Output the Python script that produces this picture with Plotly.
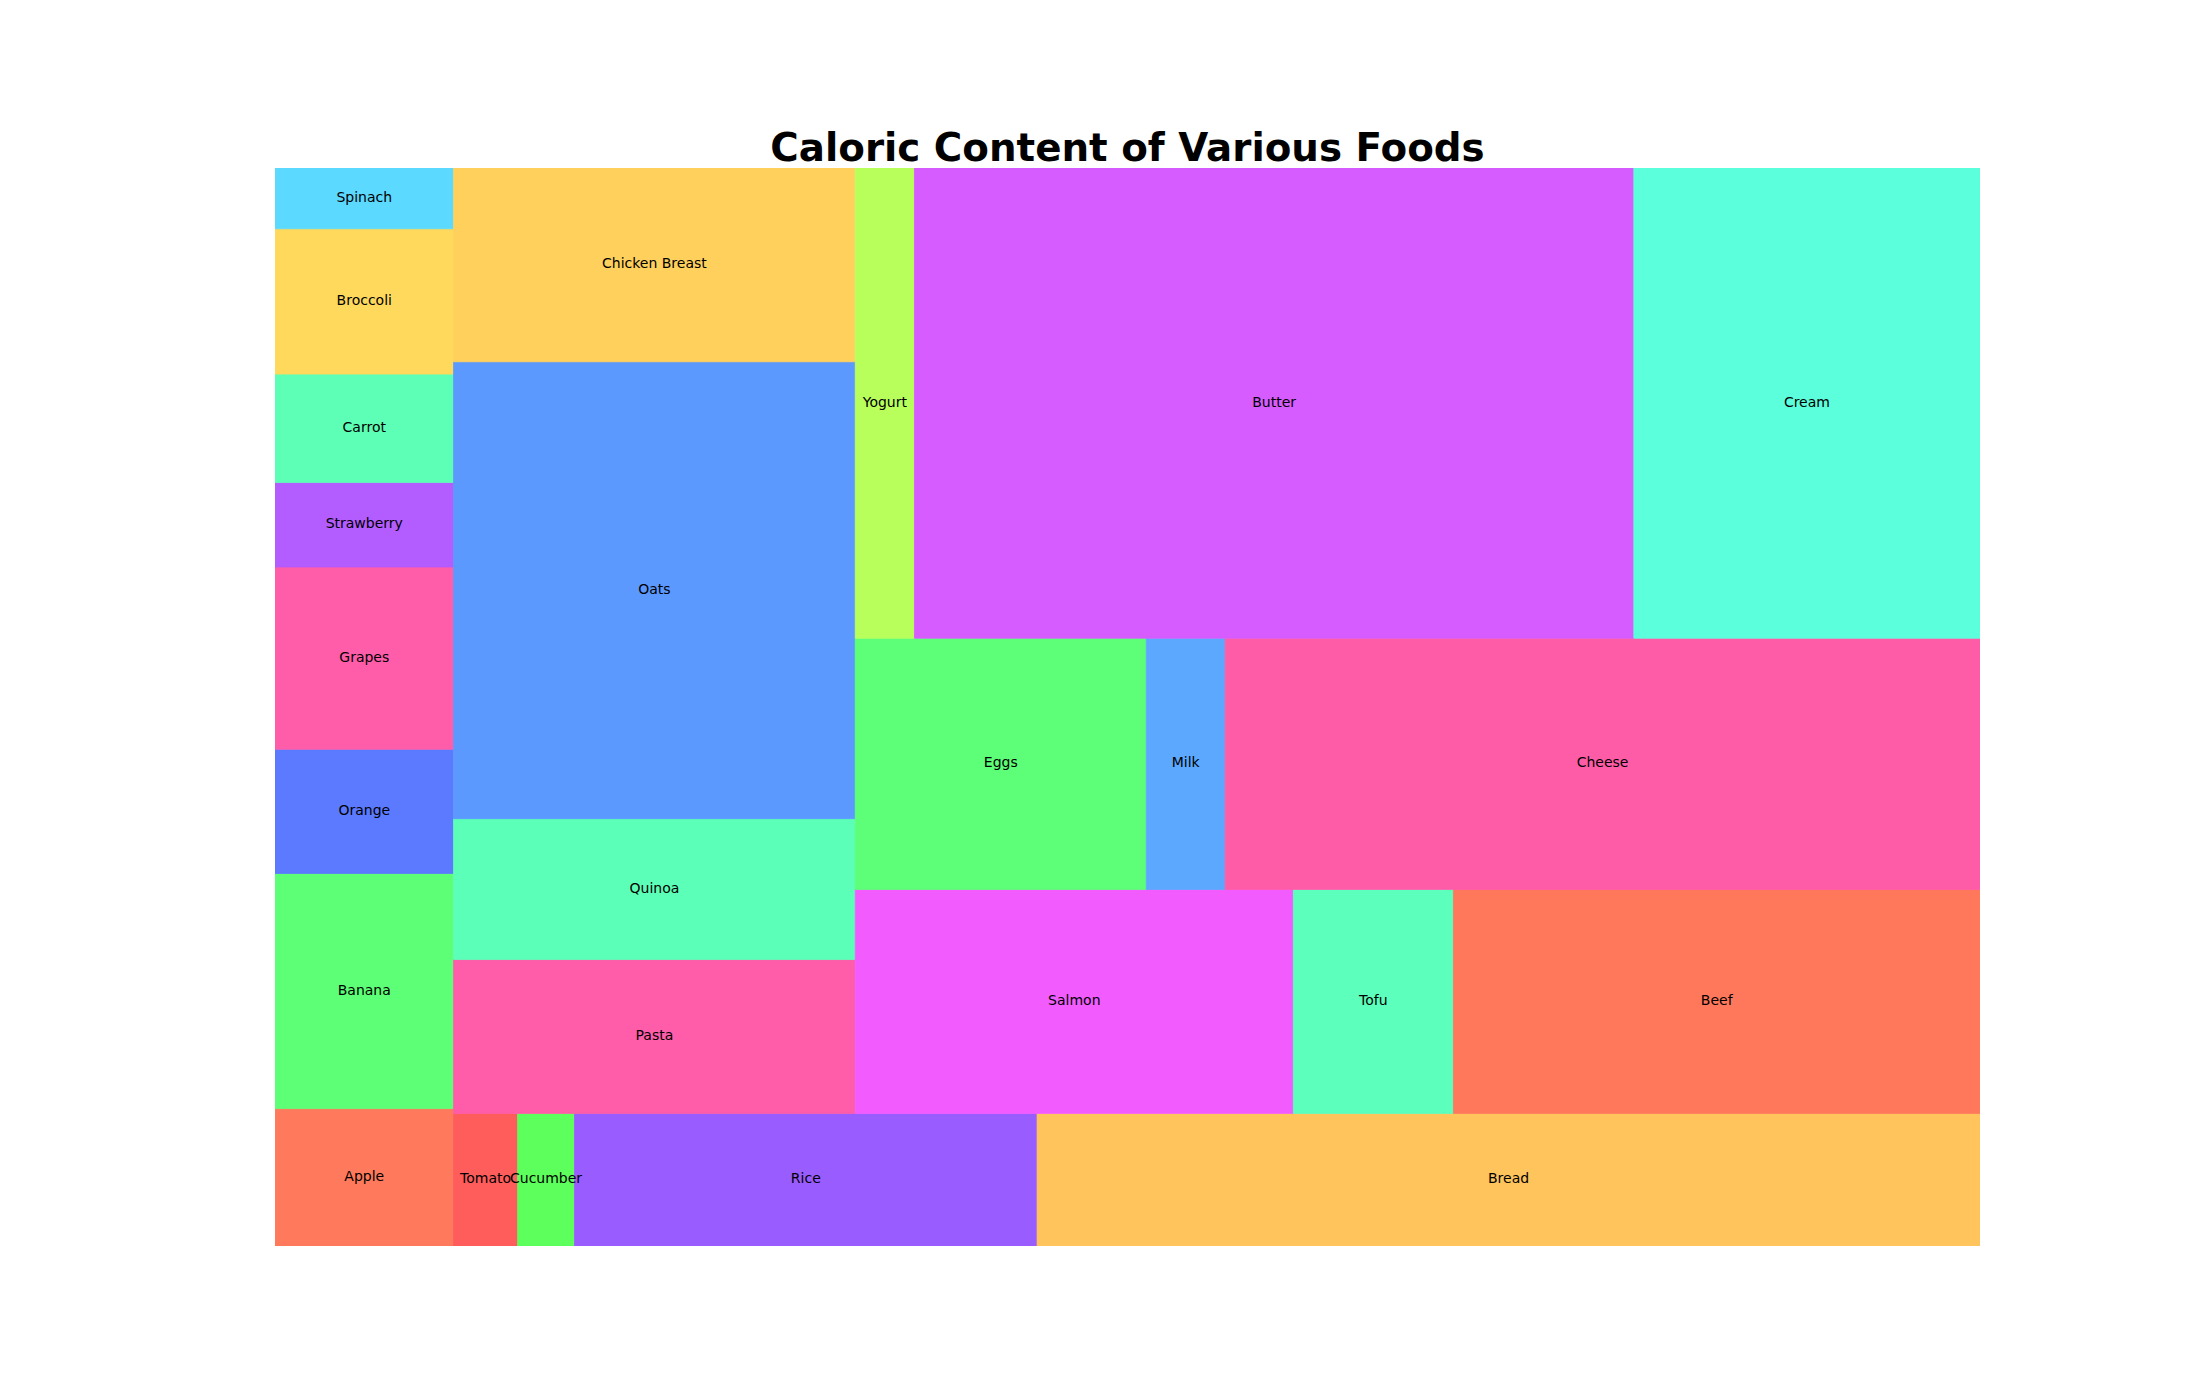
import plotly.graph_objects as go

# ---- data (calories per 100 g), in plotting order ----
foods = ["Apple", "Banana", "Orange", "Grapes", "Strawberry", "Carrot", "Broccoli", "Spinach",
         "Tomato", "Cucumber", "Rice", "Bread", "Pasta", "Quinoa", "Oats", "Chicken Breast",
         "Salmon", "Tofu", "Beef", "Eggs", "Milk", "Cheese", "Yogurt", "Butter", "Cream"]
calories = [52, 89, 47, 69, 32, 41, 55, 23,
            18, 16, 130, 265, 131, 120, 389, 165,
            208, 76, 250, 155, 42, 402, 59, 717, 345]
colors = ["#FF7A5C", "#5CFF75", "#5C7AFF", "#FF5CAA", "#B35CFF", "#5CFFB5", "#FFD95C", "#5CD9FF",
          "#FF5C5C", "#5CFF5C", "#995CFF", "#FFC45C", "#FF5CAA", "#5CFFB8", "#5C99FF", "#FFD15C",
          "#F25CFF", "#5CFFBC", "#FF785C", "#5CFF77", "#5CA8FF", "#FF5CA8", "#B8FF5C", "#D65CFF",
          "#5CFFDC"]
title_text = "Caloric Content of Various Foods"

# ---- squarify layout (same algorithm as the squarify package) ----
def normalize(sizes, dx, dy):
    total = sum(sizes)
    return [s * dx * dy / total for s in sizes]

def layoutrow(sizes, x, y, dx, dy):
    width = sum(sizes) / dy
    rects = []
    for s in sizes:
        rects.append((x, y, width, s / width))
        y += s / width
    return rects

def layoutcol(sizes, x, y, dx, dy):
    height = sum(sizes) / dx
    rects = []
    for s in sizes:
        rects.append((x, y, s / height, height))
        x += s / height
    return rects

def layout(sizes, x, y, dx, dy):
    return layoutrow(sizes, x, y, dx, dy) if dx >= dy else layoutcol(sizes, x, y, dx, dy)

def leftover(sizes, x, y, dx, dy):
    if dx >= dy:
        w = sum(sizes) / dy
        return x + w, y, dx - w, dy
    h = sum(sizes) / dx
    return x, y + h, dx, dy - h

def worst_ratio(sizes, x, y, dx, dy):
    return max(max(r[2] / r[3], r[3] / r[2]) for r in layout(sizes, x, y, dx, dy))

def squarify(sizes, x, y, dx, dy):
    if len(sizes) == 0:
        return []
    if len(sizes) == 1:
        return layout(sizes, x, y, dx, dy)
    i = 1
    while i < len(sizes) and worst_ratio(sizes[:i], x, y, dx, dy) >= worst_ratio(sizes[:i + 1], x, y, dx, dy):
        i += 1
    cur, rem = sizes[:i], sizes[i:]
    lx, ly, ldx, ldy = leftover(cur, x, y, dx, dy)
    return layout(cur, x, y, dx, dy) + squarify(rem, lx, ly, ldx, ldy)

W, H = 100.0, 100.0
rects = squarify(normalize(calories, W, H), 0.0, 0.0, W, H)

fig = go.Figure()
for (x, y, dx, dy), name, col, val in zip(rects, foods, colors, calories):
    fig.add_trace(go.Scatter(
        x=[x, x + dx, x + dx, x, x], y=[y, y, y + dy, y + dy, y],
        mode="lines", fill="toself", fillcolor=col, line=dict(width=0.8, color=col),
        hoverinfo="text", hovertext=f"{name}: {val} kcal", showlegend=False))

fig.add_trace(go.Scatter(
    x=[r[0] + r[2] / 2 for r in rects], y=[r[1] + r[3] / 2 for r in rects],
    mode="text", text=foods, textposition="middle center",
    textfont=dict(family="DejaVu Sans", size=14, color="black"),
    hoverinfo="skip", showlegend=False))

fig.update_layout(
    width=2200, height=1400,
    margin=dict(l=275, r=220, t=168, b=154),
    paper_bgcolor="white", plot_bgcolor="white",
    title=dict(text="<b>" + title_text + "</b>", x=0.5, xref="paper", xanchor="center",
               y=1 - 161 / 1400, yref="container", yanchor="bottom",
               font=dict(family="DejaVu Sans", size=38.8, color="black")),
    xaxis=dict(range=[0, W], visible=False, fixedrange=True),
    yaxis=dict(range=[0, H], visible=False, fixedrange=True),
)

fig.write_html("out.html")
